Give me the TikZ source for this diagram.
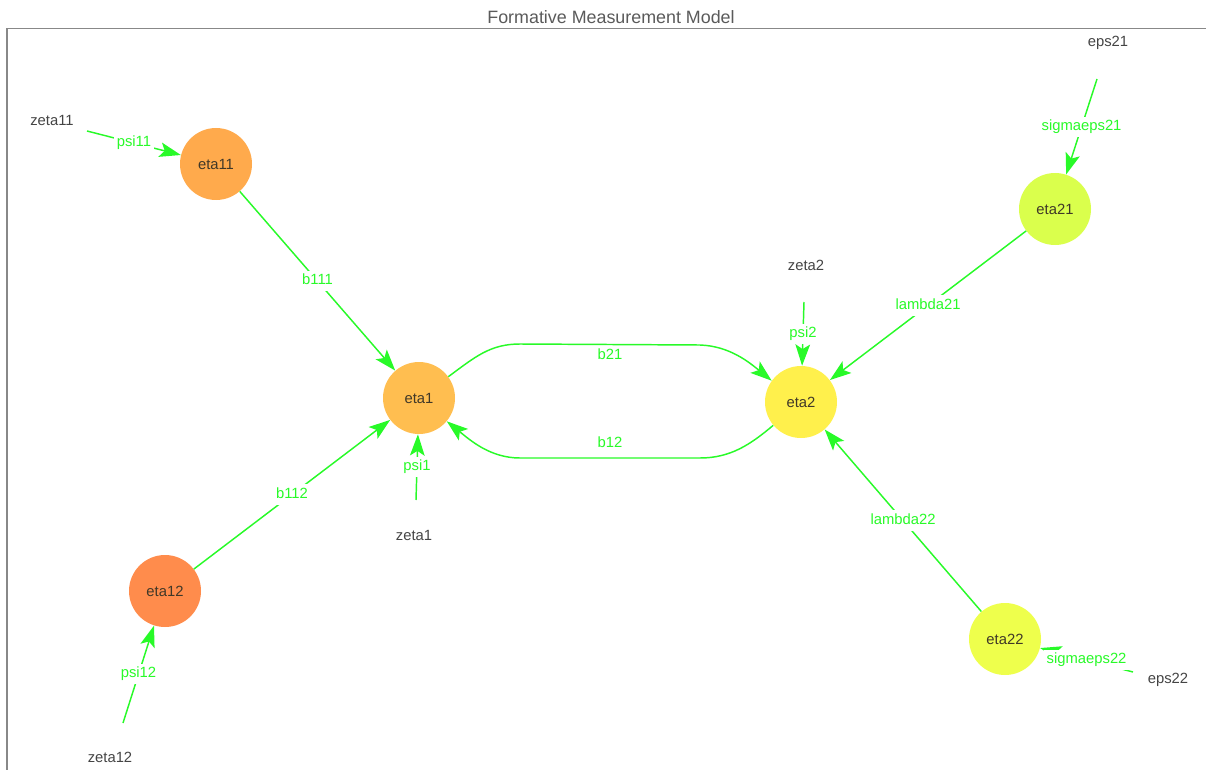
\documentclass[tikz,border=0pt]{standalone}
\usepackage{fontspec}
\setmainfont{Liberation Sans}
\usetikzlibrary{arrows.meta}

\definecolor{edgegreen}{RGB}{40,250,40}
\definecolor{nodetext}{RGB}{64,56,40}
\definecolor{freegray}{RGB}{68,68,68}
\definecolor{titlegray}{RGB}{90,90,90}
\definecolor{framegray}{RGB}{136,136,136}
\definecolor{cEtaOneOne}{RGB}{255,170,76}
\definecolor{cEtaOne}{RGB}{255,190,80}
\definecolor{cEtaOneTwo}{RGB}{255,140,76}
\definecolor{cEtaTwo}{RGB}{255,240,76}
\definecolor{cEtaTwoOne}{RGB}{218,255,76}
\definecolor{cEtaTwoTwo}{RGB}{238,255,76}

\newcommand{\lblfont}{\fontsize{11.1}{13}\selectfont}

\begin{document}
\begin{tikzpicture}[x=0.75pt, y=-0.75pt,
  latent/.style={circle, minimum size=54pt, inner sep=0pt, text=nodetext, font=\lblfont},
  freetxt/.style={text=freegray, font=\lblfont, inner sep=0pt},
  conn/.style={draw=edgegreen, line width=1.1pt,
    -{Stealth[length=16pt, width=11pt, inset=3.5pt]}},
  elbl/.style={fill=white, text=edgegreen, font=\lblfont, inner sep=2pt,
    text height=8.3pt, text depth=2.8pt}]
\useasboundingbox (0,0) rectangle (1206,770);

% title and frame
\node[text=titlegray, font=\fontsize{13.4}{16}\selectfont] (title) at (611,17) {Formative Measurement Model};
\draw[framegray, line width=1.1pt] (7,770) -- (7,28.5) -- (1206,28.5);

% latent variables
\node[latent, fill=cEtaOneOne] (eta11) at (216,164) {eta11};
\node[latent, fill=cEtaOne]    (eta1)  at (419,398) {eta1};
\node[latent, fill=cEtaOneTwo] (eta12) at (165,591) {eta12};
\node[latent, fill=cEtaTwo]    (eta2)  at (801,402) {eta2};
\node[latent, fill=cEtaTwoOne] (eta21) at (1055,209) {eta21};
\node[latent, fill=cEtaTwoTwo] (eta22) at (1005,639) {eta22};

% disturbance terms: label text and the point the path leaves from
\node[freetxt] (tz11) at (52,120)  {zeta11};
\coordinate    (z11)  at (87,131);
\node[freetxt] (te21) at (1108,43) {eps21};
\coordinate    (e21)  at (1097,79);
\node[freetxt] (te22) at (1168,680) {eps22};
\coordinate    (e22)  at (1133,672);
\node[freetxt] (tz12) at (110,757) {zeta12};
\coordinate    (z12)  at (123,723);
\node[freetxt] (tz1)  at (414,535) {zeta1};
\coordinate    (z1)   at (416,500);
\node[freetxt] (tz2)  at (806,265) {zeta2};
\coordinate    (z2)   at (804,302);

% structural paths
\draw[conn] (eta11) -- node[elbl] {b111} (eta1);
\draw[conn] (eta12) -- node[elbl] {b112} (eta1);
\draw[conn] (eta21) -- node[elbl] {lambda21} (eta2);
\draw[conn] (eta22) -- node[elbl] {lambda22} (eta2);

\draw[conn] (eta1.36) .. controls (475,357) and (490,344) .. (520,344)
  -- node[elbl, yshift=-8.6pt] {b21} (700,345)
  .. controls (730,346) and (750,363) .. (eta2.144);
\draw[conn] (eta2.220) .. controls (750,445) and (730,458) .. (700,458)
  -- node[elbl, yshift=10.5pt] {b12} (520,458)
  .. controls (490,458) and (470,440) .. (eta1.320);

% disturbance paths
\draw[conn] (z11) -- node[elbl] {psi11} (eta11);
\draw[conn] (z12) -- node[elbl] {psi12} (eta12);
\draw[conn] (z1)  -- node[elbl] {psi1} (eta1);
\draw[conn] (z2)  -- node[elbl] {psi2} (eta2);
\draw[conn] (e21) -- node[elbl] {sigmaeps21} (eta21);
\draw[conn] (e22) -- node[elbl] {sigmaeps22} (eta22);
\end{tikzpicture}
\end{document}
